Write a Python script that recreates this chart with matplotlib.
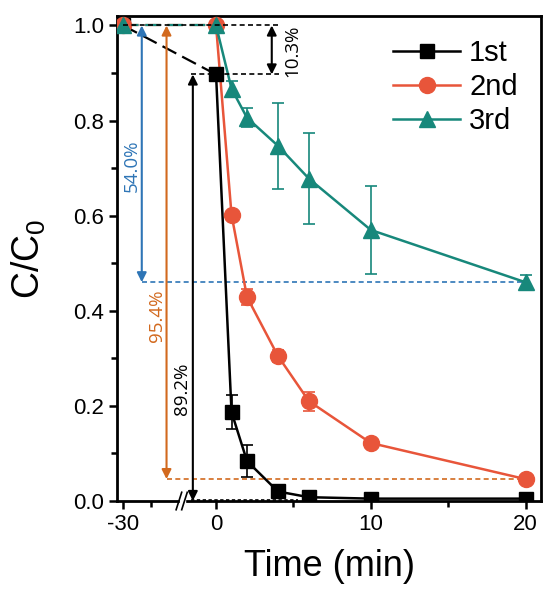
import numpy as np
import matplotlib
matplotlib.use("Agg")
import matplotlib.pyplot as plt

plt.rcParams['font.family'] = ['Liberation Sans', 'DejaVu Sans']

# sampling times (min); -30 is the dark adsorption step
t = [-30, 0, 1, 2, 4, 6, 10, 20]

c1 = [1.0, 0.897, 0.187, 0.084, 0.020, 0.008, 0.005, 0.005]
e1 = [0.0, 0.0, 0.035, 0.033, 0.004, 0.003, 0.002, 0.002]
c2 = [1.0, 1.0, 0.602, 0.429, 0.305, 0.210, 0.122, 0.046]
e2 = [0.0, 0.0, 0.004, 0.016, 0.012, 0.020, 0.006, 0.004]
c3 = [1.0, 1.0, 0.867, 0.806, 0.747, 0.678, 0.570, 0.460]
e3 = [0.0, 0.0, 0.017, 0.020, 0.090, 0.095, 0.093, 0.015]

labels = ['1st', '2nd', '3rd']
colors = ['black', '#E8553A', '#17887B']
markers = ['s', 'o', '^']
msizes = [10, 11.5, 12]


def fwd(x):
    x = np.asarray(x, dtype=float)
    return np.where(x < 0, x / 5.0, x)


def inv(x):
    x = np.asarray(x, dtype=float)
    return np.where(x < 0, x * 5.0, x)


fig = plt.figure(figsize=(5.45, 5.92), dpi=100)
ax = fig.add_axes([0.2147, 0.1537, 0.7780, 0.8193])
ax.set_xscale('function', functions=(fwd, inv))

for c, e, col, m, ms, lab in zip([c1, c2, c3], [e1, e2, e3], colors,
                                 markers, msizes, labels):
    ax.plot(t[:2], c[:2], color=col, lw=1.6, ls=(0, (7, 3)), zorder=2)
    ax.errorbar(t[1:], c[1:], yerr=e[1:], fmt='none', ecolor=col,
                elinewidth=1.2, capsize=4, capthick=1.2, zorder=3)
    ax.plot(t[1:], c[1:], color=col, lw=1.8, zorder=3)
    ax.plot(t, c, ls='none', marker=m, ms=ms, color=col, mec=col, zorder=4)
    ax.plot([], [], color=col, lw=1.8, marker=m, ms=ms, label=lab)

# removal percentages
blue, orange = '#2E75B6', '#D2691E'
arrow = dict(arrowstyle='<|-|>', lw=1.5, mutation_scale=14,
             shrinkA=0, shrinkB=0)

ax.hlines(1.0, -30, 4.1, colors='black', lw=1.2, ls=(0, (3, 2)), zorder=5)
ax.hlines(c1[1], -8.0, 4.1, colors='black', lw=1.2, ls=(0, (3, 2)), zorder=5)
ax.hlines(0.003, -8.0, 5.3, colors='black', lw=1.2, ls=(0, (2, 1.5)), zorder=5)
ax.hlines(c3[-1], -24, 20, colors=blue, lw=1.2, ls=(0, (3, 2)), zorder=1)
ax.hlines(c2[-1], -16, 20, colors=orange, lw=1.2, ls=(0, (3, 2)), zorder=1)

ax.annotate('', xy=(-24, c3[-1]), xytext=(-24, 1.0),
            arrowprops=dict(arrow, color=blue))
ax.annotate('', xy=(-16, c2[-1]), xytext=(-16, 1.0),
            arrowprops=dict(arrow, color=orange))
ax.annotate('', xy=(-7.5, 0.0), xytext=(-7.5, c1[1]),
            arrowprops=dict(arrow, color='black'))
ax.annotate('', xy=(3.6, c1[1]), xytext=(3.6, 1.0),
            arrowprops=dict(arrow, color='black'))

pct_font = dict(rotation=90, ha='center', va='center', fontsize=13.5,
                family=['Open Sans', 'DejaVu Sans'])
ax.text(-27.2, 0.705, '54.0%', color=blue, **pct_font)
ax.text(-19.0, 0.39, '95.4%', color=orange, **pct_font)
ax.text(-10.9, 0.236, '89.2%', color='black', **pct_font)
ax.text(4.9, 0.947, '10.3%', color='black', **pct_font)

ax.set_xlim(-32, 21)
ax.set_ylim(0, 1.02)
ax.set_xticks([-30, 0, 10, 20])
ax.set_xticklabels(['-30', '0', '10', '20'])
ax.set_xticks([-21, 5, 15], minor=True)
ax.set_yticks(np.arange(0, 1.01, 0.2))
ax.set_yticklabels(['%.1f' % v for v in np.arange(0, 1.01, 0.2)])
ax.set_yticks(np.arange(0.1, 1.0, 0.2), minor=True)
ax.tick_params(which='both', direction='out', width=1.8, labelsize=16,
               top=False, right=False)
ax.tick_params(which='major', length=6)
ax.tick_params(which='minor', length=4)
for s in ax.spines.values():
    s.set_linewidth(2.0)

# axis break on the bottom spine
ax.add_patch(plt.Rectangle((-11.7, -0.015), 1.6, 0.03, color='white',
                           transform=ax.get_xaxis_transform(),
                           clip_on=False, zorder=6))
for xb in (-12.0, -10.2):
    ax.plot([xb - 0.9, xb + 0.9], [-0.018, 0.018], color='black', lw=1.2,
            transform=ax.get_xaxis_transform(), clip_on=False, zorder=7)

ax.set_xlabel('Time (min)', fontsize=26, labelpad=10)
ax.set_ylabel(r'$\mathregular{C/C_0}$', fontsize=27, labelpad=18)

ax.legend(loc='upper right', frameon=False, fontsize=21, handlelength=2.3,
          handletextpad=0.3, labelspacing=0.2, borderaxespad=0.3,
          borderpad=0.5)

fig.savefig('out.png', dpi=100)
